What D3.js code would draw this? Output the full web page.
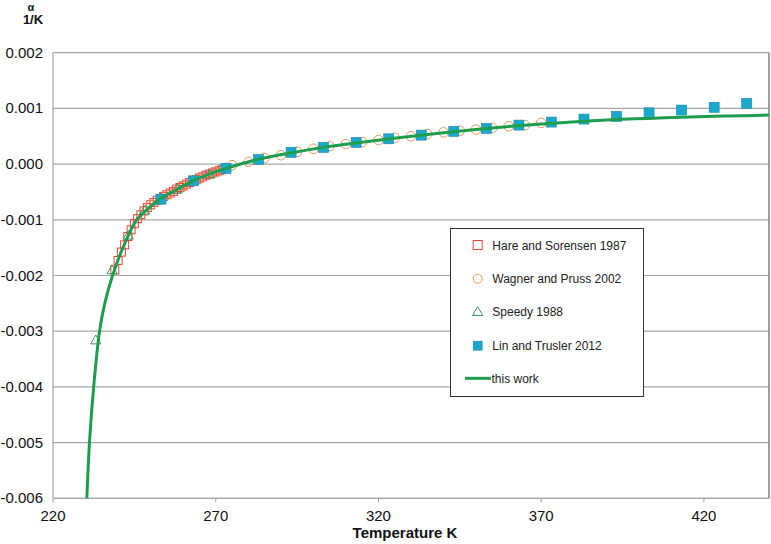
<!DOCTYPE html>
<html><head><meta charset="utf-8">
<script src="https://cdn.jsdelivr.net/npm/d3@7"></script>
<style>body{margin:0;background:#fff}svg{display:block}text{font-family:"Liberation Sans",Arial,sans-serif}</style>
</head><body><svg id="c" width="771" height="544"></svg>
<script>
// Hare and Sorensen 1987
const hareT = [239,240,241,242,243,244,245,246,247,248,249,250,251,252,253,254,255,256,257,258,259,260,261,262,263,264,265,266,267,268,269,270,271,272];
const hareA = [-0.00190,-0.00173,-0.00158,-0.00145,-0.00130,-0.00118,-0.00107,-0.00098,-0.00091,-0.00084,-0.00078,-0.00073,-0.00069,-0.00065,-0.00062,-0.00058,-0.00055,-0.00052,-0.00049,-0.00045,-0.00042,-0.00039,-0.00036,-0.00033,-0.00030,-0.00028,-0.00025,-0.00023,-0.00020,-0.00018,-0.00016,-0.00014,-0.00012,-0.00010];
// Wagner and Pruss 2002
const wagT = [250,255,260,265,270,275,280,285,290,295,300,305,310,315,320,325,330,335,340,345,350,355,360,365,370];
const wagA = [-0.00073,-0.00055,-0.00040,-0.00026,-0.00014,-0.00002,0.00004,0.00011,0.00016,0.00022,0.000275,0.00032,0.00036,0.000395,0.00043,0.00047,0.00050,0.00054,0.00057,0.00060,0.00062,0.00065,0.00068,0.00070,0.00074];
// Speedy 1988
const spT = [233.15,238.15,243.15,248.15,253.15,258.15,263.15,268.15,273.15];
const spA = [-0.00316,-0.00190,-0.00128,-0.00083,-0.00061,-0.00045,-0.00030,-0.00018,-0.00007];
// Lin and Trusler 2012
const linT = [253.15,263.15,273.15,283.15,293.15,303.15,313.15,323.15,333.15,343.15,353.15,363.15,373.15,383.15,393.15,403.15,413.15,423.15,433.15];
const linA = [-0.00063,-0.00030,-0.000077,0.000084,0.00021,0.00030,0.00039,0.000454,0.00052,0.000587,0.00064,0.00070,0.000754,0.000808,0.000856,0.00092,0.00097,0.00102,0.00109];
// this work
const fitT = [229.9,230.4,231.2,232.5,234.3,235.9,238.3,241.5,245.7,250,253,258,263,268,273,283,293,303,313,323,333,343,353,363,373,383,393,403,413,423,433,440];
const fitA = [-0.0068,-0.0060,-0.0050,-0.0040,-0.0030,-0.0025,-0.0020,-0.0015,-0.0010,-0.00076,-0.00062,-0.00046,-0.00030,-0.00018,-0.00008,0.000085,0.00020,0.00030,0.00038,0.00045,0.00052,0.00058,0.00064,0.00069,0.00073,0.00077,0.00080,0.00082,0.00084,0.00086,0.00087,0.00088];

const xTicks = [220,270,320,370,420];
const yTicks = [0.002,0.001,0.000,-0.001,-0.002,-0.003,-0.004,-0.005,-0.006];
const legendLabels = ["Hare and Sorensen 1987","Wagner and Pruss 2002","Speedy 1988","Lin and Trusler 2012","this work"];

const L=53, R=769, T=52.7, B=498.3;
const svg = d3.select("#c");
const x = d3.scaleLinear().domain([220,440]).range([L,R]);
const y = d3.scaleLinear().domain([-0.006,0.002]).range([B,T]);
const grid = "#a6a6a6";

svg.append("g").selectAll("line").data(yTicks).join("line")
  .attr("x1",L).attr("x2",R).attr("y1",d=>y(d)).attr("y2",d=>y(d))
  .attr("stroke",grid).attr("stroke-width",1.2);
svg.append("line").attr("x1",L).attr("x2",L).attr("y1",T).attr("y2",B).attr("stroke",grid).attr("stroke-width",1.2);
svg.append("line").attr("x1",R).attr("x2",R).attr("y1",T).attr("y2",B).attr("stroke","#808080").attr("stroke-width",1.5);
svg.append("line").attr("x1",L).attr("x2",R).attr("y1",B).attr("y2",B).attr("stroke",grid).attr("stroke-width",1.2);
svg.append("g").selectAll("line").data(xTicks).join("line")
  .attr("x1",d=>x(d)).attr("x2",d=>x(d)).attr("y1",B).attr("y2",B+4).attr("stroke",grid);
svg.append("g").selectAll("text").data(xTicks).join("text")
  .attr("x",d=>x(d)).attr("y",B+23).attr("text-anchor","middle").attr("font-size",15).attr("fill","#111")
  .text(d=>d);
svg.append("g").selectAll("text").data(yTicks).join("text")
  .attr("x",L-10).attr("y",d=>y(d)+5).attr("text-anchor","end").attr("font-size",15).attr("fill","#111")
  .text(d=>d3.format(".3f")(d).replace("−","-"));
svg.append("text").attr("x",31).attr("y",10.5).attr("text-anchor","middle").attr("font-size",11).attr("font-weight","bold").attr("fill","#111").text("α");
svg.append("text").attr("x",33).attr("y",24).attr("text-anchor","middle").attr("font-size",13).attr("font-weight","bold").attr("fill","#111").text("1/K");
svg.append("text").attr("x",405).attr("y",538).attr("text-anchor","middle").attr("font-size",15).attr("font-weight","bold").attr("fill","#111").text("Temperature K");

svg.append("clipPath").attr("id","clip").append("rect").attr("x",L).attr("y",T).attr("width",R-L).attr("height",B-T);

const cRed="#e8433c", cOr="#e09a55", cGr="#3a9b5c", cBlue="#1aa9cd", cBlueS="#1789a8", cLine="#1e9e4c";
const sq = 8;
const g = svg.append("g");
g.selectAll(".h").data(hareT).join("rect").attr("class","h")
  .attr("x",(d,i)=>x(d)-sq/2).attr("y",(d,i)=>y(hareA[i])-sq/2).attr("width",sq).attr("height",sq)
  .attr("fill","none").attr("stroke",cRed).attr("stroke-width",1);
g.selectAll(".w").data(wagT).join("circle").attr("class","w")
  .attr("cx",d=>x(d)).attr("cy",(d,i)=>y(wagA[i])).attr("r",4.8)
  .attr("fill","none").attr("stroke",cOr).attr("stroke-width",1);
const tri = d3.symbol().type(d3.symbolTriangle).size(45);
g.selectAll(".s").data(spT).join("path").attr("class","s")
  .attr("transform",(d,i)=>`translate(${x(d)},${y(spA[i])+0.8})`).attr("d",tri)
  .attr("fill","none").attr("stroke",cGr).attr("stroke-width",1);
const line = d3.line().x(d=>x(d)).y((d,i)=>y(fitA[i])).curve(d3.curveCatmullRom.alpha(0.5));
svg.append("path").datum(fitT).attr("d",line).attr("fill","none").attr("stroke",cLine).attr("stroke-width",3)
  .attr("clip-path","url(#clip)");
const ls = 10;
g.selectAll(".l").data(linT).join("rect").attr("class","l")
  .attr("x",d=>x(d)-ls/2).attr("y",(d,i)=>y(linA[i])-ls/2).attr("width",ls).attr("height",ls)
  .attr("fill",cBlue).attr("stroke",cBlueS).attr("stroke-width",0.6);

const lg = svg.append("g");
lg.append("rect").attr("x",450.5).attr("y",228.5).attr("width",193).attr("height",168).attr("fill","#fff").attr("stroke","#333").attr("stroke-width",1);
const ly = [245,278.7,311.7,345.7,378.3];
const mx = 477.7;
lg.append("rect").attr("x",mx-4.5).attr("y",ly[0]-4.5).attr("width",9).attr("height",9).attr("fill","none").attr("stroke",cRed);
lg.append("circle").attr("cx",mx).attr("cy",ly[1]).attr("r",4.5).attr("fill","none").attr("stroke",cOr);
lg.append("path").attr("transform",`translate(${mx},${ly[2]+0.8})`).attr("d",tri).attr("fill","none").attr("stroke",cGr);
lg.append("rect").attr("x",mx-4.5).attr("y",ly[3]-4.5).attr("width",9).attr("height",9).attr("fill",cBlue).attr("stroke",cBlueS).attr("stroke-width",0.6);
lg.append("line").attr("x1",465).attr("x2",491).attr("y1",ly[4]).attr("y2",ly[4]).attr("stroke",cLine).attr("stroke-width",3);
lg.selectAll("text").data(legendLabels).join("text")
  .attr("x",(d,i)=>i===4?491.5:492.3).attr("y",(d,i)=>ly[i]+4.5).attr("font-size",12).attr("fill","#222").text(d=>d);
</script></body></html>
